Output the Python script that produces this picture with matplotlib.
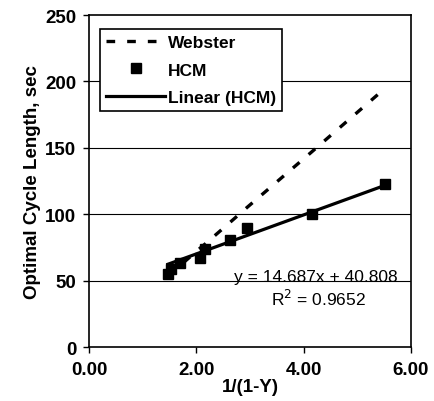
import numpy as np
import matplotlib
matplotlib.use("Agg")
import matplotlib.pyplot as plt

plt.rcParams['font.family'] = ['Liberation Sans', 'DejaVu Sans']

# 1/(1-Y) values and cycle lengths
x_vals = [1.47, 1.52, 1.70, 2.07, 2.16, 2.63, 2.94, 4.15, 5.52]
hcm = [55, 58.5, 63.5, 67, 74, 81, 90, 100.5, 122.5]
webster = [53.5, 55, 61.5, 74.5, 77.5, 94, 105, 147, 195]
slope, intercept = 14.687, 40.808
r2 = 0.9652

x_ticks = [0, 2, 4, 6]
x_labels = ['0.00', '2.00', '4.00', '6.00']
y_ticks = [0, 50, 100, 150, 200, 250]

fig = plt.figure(figsize=(4.34, 4.02), dpi=100)
ax = fig.add_axes([0.205, 0.134, 0.742, 0.826])

ax.plot(x_vals, webster, color='black', lw=2.4, ls=(0, (2.6, 3.6)), label='Webster')
ax.plot(x_vals, hcm, ls='none', marker='s', ms=7, color='black', label='HCM')
fit_x = np.array([min(x_vals), max(x_vals)])
ax.plot(fit_x, slope * fit_x + intercept, color='black', lw=2.3, label='Linear (HCM)')

ax.set_xlim(0, 6)
ax.set_ylim(0, 250)
ax.set_xticks(x_ticks)
ax.set_xticklabels(x_labels)
ax.set_yticks(y_ticks)
for y in y_ticks[1:-1]:
    ax.axhline(y, color='black', lw=0.8, zorder=0)

ax.tick_params(direction='out', length=4, width=1, labelsize=13.5)
ax.tick_params(axis='x', pad=6)
ax.tick_params(axis='y', pad=5)
for lbl in ax.get_xticklabels() + ax.get_yticklabels():
    lbl.set_fontweight('bold')
for s in ax.spines.values():
    s.set_linewidth(1.2)

ax.set_xlabel('1/(1-Y)', fontsize=13.5, fontweight='bold', labelpad=0)
ax.set_ylabel('Optimal Cycle Length, sec', fontsize=13.5, fontweight='bold', labelpad=3)

ax.text(4.23, 49.5, f'y = {slope}x + {intercept}', fontsize=12.5, ha='center', va='baseline')
ax.text(4.28, 31.5, f'R$^2$ = {r2}', fontsize=12.5, ha='center', va='baseline')

leg = ax.legend(loc='upper left', bbox_to_anchor=(0.034, 0.958), fontsize=12.5,
                frameon=True, fancybox=False, handlelength=3.4, borderpad=0.35,
                labelspacing=0.7, handletextpad=0.15, borderaxespad=0, framealpha=1)
leg.get_frame().set_edgecolor('black')
leg.get_frame().set_linewidth(1.2)
for t in leg.get_texts():
    t.set_fontweight('bold')

fig.savefig('out.png', dpi=100)
